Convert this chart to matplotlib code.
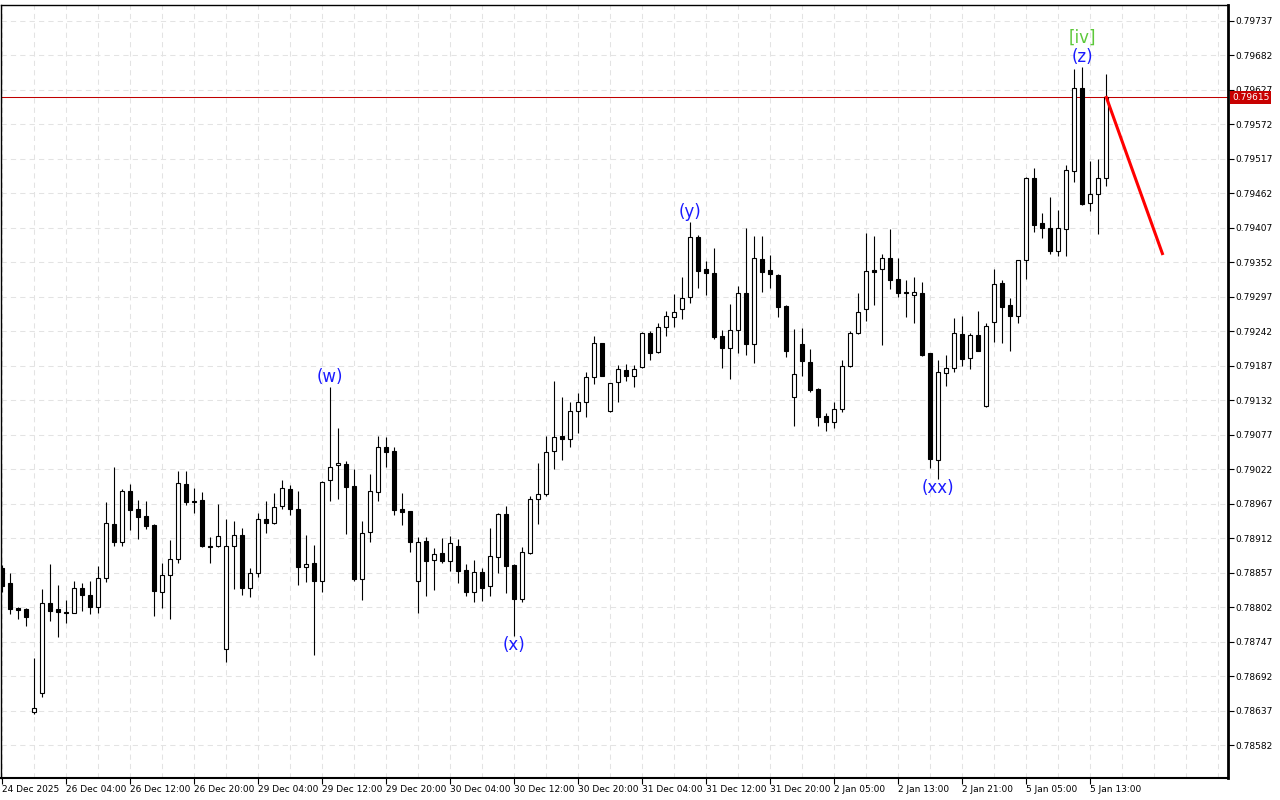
import numpy as np
import matplotlib
matplotlib.use('Agg')
import matplotlib.pyplot as plt
import matplotlib.transforms as mtransforms

# H1 candles, 24 Dec 2025 -> 5 Jan 2026
opens = [0.78864, 0.78840, 0.78801, 0.78799, 0.78635, 0.78665, 0.78809, 0.78799, 0.78794, 0.78793,
         0.78832, 0.78821, 0.78802, 0.78848, 0.78935, 0.78906, 0.78987, 0.78958, 0.78947, 0.78933,
         0.78826, 0.78853, 0.78879, 0.78998, 0.78971, 0.78973, 0.78899, 0.78899, 0.78735, 0.78899,
         0.78917, 0.78832, 0.78856, 0.78943, 0.78936, 0.78963, 0.78990, 0.78958, 0.78866, 0.78872,
         0.78844, 0.79005, 0.79029, 0.79030, 0.78995, 0.78847, 0.78922, 0.78986, 0.79057, 0.79051,
         0.78958, 0.78955, 0.78844, 0.78907, 0.78877, 0.78888, 0.78876, 0.78899, 0.78861, 0.78826,
         0.78858, 0.78836, 0.78882, 0.78951, 0.78869, 0.78815, 0.78888, 0.78974, 0.78982, 0.79051,
         0.79075, 0.79070, 0.79115, 0.79129, 0.79169, 0.79223, 0.79115, 0.79161, 0.79180, 0.79171,
         0.79185, 0.79239, 0.79209, 0.79249, 0.79265, 0.79278, 0.79297, 0.79392, 0.79341, 0.79335,
         0.79234, 0.79215, 0.79244, 0.79303, 0.79222, 0.79357, 0.79340, 0.79332, 0.79282, 0.79137,
         0.79222, 0.79193, 0.79150, 0.79107, 0.79097, 0.79118, 0.79187, 0.79239, 0.79278, 0.79340,
         0.79341, 0.79359, 0.79325, 0.79305, 0.79300, 0.79303, 0.79207, 0.79037, 0.79175, 0.79183,
         0.79238, 0.79199, 0.79236, 0.79123, 0.79257, 0.79319, 0.79284, 0.79266, 0.79356, 0.79487,
         0.79414, 0.79407, 0.79370, 0.79405, 0.79498, 0.79630, 0.79447, 0.79461, 0.79487]
highs = [0.78869, 0.78856, 0.78802, 0.78801, 0.78721, 0.78831, 0.78871, 0.78837, 0.78813, 0.78844,
         0.78840, 0.78844, 0.78868, 0.78970, 0.79025, 0.78990, 0.78998, 0.78973, 0.78971, 0.78934,
         0.78872, 0.78909, 0.79019, 0.79019, 0.78992, 0.78986, 0.78914, 0.78966, 0.78943, 0.78939,
         0.78928, 0.78864, 0.78952, 0.78971, 0.78984, 0.79005, 0.78997, 0.78987, 0.78917, 0.78901,
         0.79003, 0.79153, 0.79088, 0.79035, 0.79022, 0.78939, 0.79014, 0.79075, 0.79073, 0.79057,
         0.78984, 0.78956, 0.78914, 0.78914, 0.78896, 0.78912, 0.78915, 0.78911, 0.78871, 0.78877,
         0.78864, 0.78928, 0.78952, 0.78963, 0.78870, 0.78898, 0.78979, 0.79032, 0.79075, 0.79163,
         0.79137, 0.79129, 0.79144, 0.79177, 0.79234, 0.79224, 0.79160, 0.79188, 0.79190, 0.79188,
         0.79241, 0.79242, 0.79255, 0.79274, 0.79301, 0.79329, 0.79416, 0.79396, 0.79354, 0.79375,
         0.79244, 0.79286, 0.79314, 0.79407, 0.79394, 0.79394, 0.79364, 0.79333, 0.79284, 0.79246,
         0.79247, 0.79214, 0.79151, 0.79112, 0.79129, 0.79196, 0.79242, 0.79303, 0.79399, 0.79394,
         0.79365, 0.79405, 0.79359, 0.79324, 0.79329, 0.79321, 0.79208, 0.79196, 0.79204, 0.79263,
         0.79266, 0.79239, 0.79274, 0.79255, 0.79341, 0.79324, 0.79295, 0.79356, 0.79488, 0.79502,
         0.79431, 0.79456, 0.79435, 0.79507, 0.79660, 0.79664, 0.79514, 0.79517, 0.79652]
lows = [0.78826, 0.78791, 0.78783, 0.78772, 0.78631, 0.78659, 0.78780, 0.78754, 0.78777, 0.78792,
        0.78796, 0.78791, 0.78793, 0.78842, 0.78899, 0.78899, 0.78925, 0.78911, 0.78927, 0.78788,
        0.78801, 0.78783, 0.78872, 0.78965, 0.78952, 0.78898, 0.78872, 0.78898, 0.78714, 0.78831,
        0.78821, 0.78818, 0.78850, 0.78920, 0.78935, 0.78958, 0.78949, 0.78837, 0.78842, 0.78726,
        0.78826, 0.78971, 0.78974, 0.78919, 0.78844, 0.78813, 0.78906, 0.78971, 0.79025, 0.78949,
        0.78933, 0.78890, 0.78793, 0.78820, 0.78829, 0.78872, 0.78860, 0.78840, 0.78820, 0.78810,
        0.78812, 0.78820, 0.78856, 0.78824, 0.78756, 0.78810, 0.78887, 0.78935, 0.78979, 0.79022,
        0.79037, 0.79057, 0.79080, 0.79105, 0.79158, 0.79170, 0.79114, 0.79129, 0.79163, 0.79153,
        0.79184, 0.79196, 0.79208, 0.79234, 0.79249, 0.79262, 0.79287, 0.79311, 0.79300, 0.79230,
        0.79183, 0.79166, 0.79207, 0.79204, 0.79191, 0.79305, 0.79311, 0.79265, 0.79201, 0.79091,
        0.79171, 0.79145, 0.79091, 0.79083, 0.79088, 0.79113, 0.79185, 0.79238, 0.79258, 0.79284,
        0.79220, 0.79309, 0.79297, 0.79265, 0.79255, 0.79203, 0.79024, 0.79006, 0.79155, 0.79177,
        0.79187, 0.79182, 0.79210, 0.79122, 0.79225, 0.79223, 0.79211, 0.79255, 0.79325, 0.79400,
        0.79391, 0.79365, 0.79362, 0.79362, 0.79480, 0.79443, 0.79434, 0.79397, 0.79474]
closes = [0.78836, 0.78799, 0.78797, 0.78786, 0.78641, 0.78809, 0.78796, 0.78794, 0.78793, 0.78832,
          0.78821, 0.78802, 0.78848, 0.78936, 0.78906, 0.78987, 0.78957, 0.78946, 0.78931, 0.78828,
          0.78853, 0.78879, 0.79000, 0.78970, 0.78970, 0.78899, 0.78898, 0.78915, 0.78899, 0.78917,
          0.78832, 0.78856, 0.78943, 0.78936, 0.78962, 0.78992, 0.78958, 0.78866, 0.78871, 0.78844,
          0.79002, 0.79025, 0.79032, 0.78994, 0.78847, 0.78920, 0.78987, 0.79057, 0.79049, 0.78957,
          0.78954, 0.78906, 0.78906, 0.78876, 0.78887, 0.78876, 0.78904, 0.78860, 0.78826, 0.78858,
          0.78832, 0.78884, 0.78951, 0.78868, 0.78815, 0.78890, 0.78974, 0.78982, 0.79049, 0.79073,
          0.79070, 0.79115, 0.79129, 0.79169, 0.79223, 0.79171, 0.79159, 0.79182, 0.79171, 0.79182,
          0.79239, 0.79207, 0.79249, 0.79266, 0.79273, 0.79295, 0.79392, 0.79338, 0.79335, 0.79233,
          0.79215, 0.79244, 0.79303, 0.79222, 0.79359, 0.79337, 0.79333, 0.79281, 0.79211, 0.79174,
          0.79195, 0.79148, 0.79105, 0.79097, 0.79118, 0.79187, 0.79239, 0.79273, 0.79338, 0.79337,
          0.79359, 0.79324, 0.79303, 0.79303, 0.79305, 0.79204, 0.79038, 0.79177, 0.79183, 0.79239,
          0.79198, 0.79236, 0.79211, 0.79250, 0.79317, 0.79281, 0.79266, 0.79355, 0.79487, 0.79411,
          0.79407, 0.79370, 0.79407, 0.79499, 0.79630, 0.79445, 0.79461, 0.79487, 0.79615]

time_labels = ['24 Dec 2025', '26 Dec 04:00', '26 Dec 12:00', '26 Dec 20:00', '29 Dec 04:00',
               '29 Dec 12:00', '29 Dec 20:00', '30 Dec 04:00', '30 Dec 12:00', '30 Dec 20:00',
               '31 Dec 04:00', '31 Dec 12:00', '31 Dec 20:00', '2 Jan 05:00', '2 Jan 13:00',
               '2 Jan 21:00', '5 Jan 05:00', '5 Jan 13:00']
price_ticks = [0.78582, 0.78637, 0.78692, 0.78747, 0.78802, 0.78857, 0.78912, 0.78967,
               0.79022, 0.79077, 0.79132, 0.79187, 0.79242, 0.79297, 0.79352, 0.79407,
               0.79462, 0.79517, 0.79572, 0.79627, 0.79682, 0.79737]

# wave count: (bar index, label, placed above high / below low)
wave_labels = [(41, '(w)', 'high'), (64, '(x)', 'low'), (86, '(y)', 'high'),
               (117, '(xx)', 'low'), (135, '(z)', 'high')]
degree_label = (135, '[iv]')

current_price = 0.79615
forecast_x = [138, 145]
forecast_y = [0.79615, 0.79366]

o = np.array(opens)
h = np.array(highs)
l = np.array(lows)
c = np.array(closes)
x = np.arange(len(o))
up = c >= o

fig = plt.figure(figsize=(12.8, 8), dpi=100, facecolor='white')
ax = fig.add_axes([1 / 1280, 22 / 800, 1227 / 1280, 773 / 800])

# candles
ax.vlines(x, l, h, color='black', linewidth=0.8, zorder=3)
body_bot = np.minimum(o, c)
body_h = np.maximum(np.abs(c - o), 0.000008)
ax.bar(x[up], body_h[up], bottom=body_bot[up], width=0.5, facecolor='white',
       edgecolor='black', linewidth=0.8, zorder=4)
ax.bar(x[~up], body_h[~up], bottom=body_bot[~up], width=0.5, facecolor='black',
       edgecolor='black', linewidth=0.8, zorder=4)

# current price line + forecast
ax.axhline(current_price, color='#c00000', linewidth=0.75, zorder=2)
ax.plot(forecast_x, forecast_y, color='#ff0000', linewidth=2.2, zorder=5)

# wave labels
for i, txt, side in wave_labels:
    if side == 'high':
        ax.annotate(txt, (i, h[i]), xytext=(0, 10), textcoords='offset pixels',
                    ha='center', va='center', color='#1a1aff', fontsize=12, zorder=6)
    else:
        ax.annotate(txt, (i, l[i]), xytext=(0, -9), textcoords='offset pixels',
                    ha='center', va='center', color='#1a1aff', fontsize=12, zorder=6)
ax.annotate(degree_label[1], (degree_label[0], h[degree_label[0]]), xytext=(0, 29),
            textcoords='offset pixels', ha='center', va='center', color='#5cc83a',
            fontsize=12, zorder=6)

# axes
ax.set_xlim(-0.16, 153.2)
ax.set_ylim(0.785294, 0.797625)

ax.set_xticks(np.arange(len(time_labels)) * 8)
ax.set_xticklabels(time_labels, ha='left')
ax.set_xticks(np.arange(0, 154, 4), minor=True)
ax.tick_params(axis='x', which='major', direction='out', length=4, width=0.8,
               labelsize=6.5, pad=1)
ax.tick_params(axis='x', which='minor', length=0)

ax.yaxis.tick_right()
ax.set_yticks(price_ticks)
ax.set_yticklabels([f'{p:.5f}' for p in price_ticks])
ax.tick_params(axis='y', direction='out', length=4, width=0.8, labelsize=6.5, pad=1)

ax.grid(which='both', axis='x', color='#e3e3e3', linestyle=(0, (5, 4)), linewidth=0.75)
ax.grid(which='major', axis='y', color='#e3e3e3', linestyle=(0, (5, 4)), linewidth=0.75)
ax.set_axisbelow(True)

for side, lw in [('left', 1.0), ('top', 1.0), ('right', 2.0), ('bottom', 1.5)]:
    ax.spines[side].set_color('black')
    ax.spines[side].set_linewidth(lw)

# current price tag on the price scale
trans = mtransforms.blended_transform_factory(ax.transAxes, ax.transData)
ax.text(1.0035, current_price, f'{current_price:.5f}', transform=trans, ha='left',
        va='center', fontsize=6.5, color='white', zorder=10, clip_on=False,
        bbox=dict(boxstyle='square,pad=0.2', facecolor='#c80000', edgecolor='none'))

fig.savefig('out.png', dpi=100, facecolor='white')
